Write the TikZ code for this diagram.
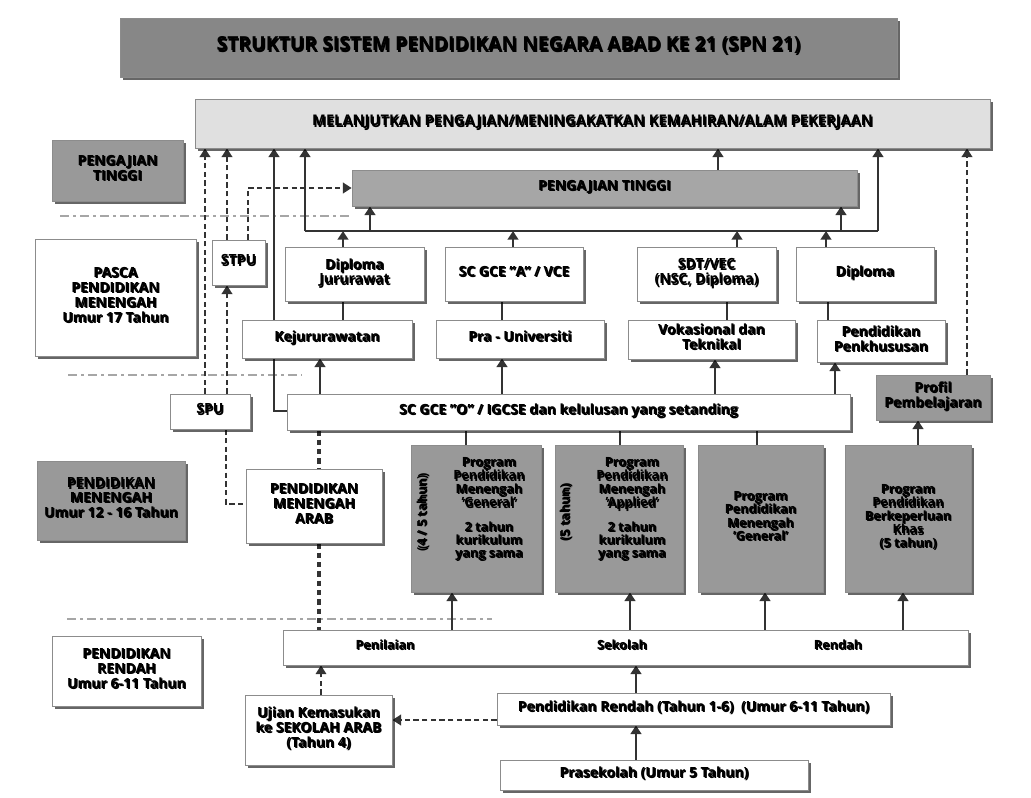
\documentclass[tikz,border=0pt]{standalone}
\usepackage{fontspec}
\setmainfont{Open Sans}
\usetikzlibrary{arrows.meta,shadows}

% text with a small offset shadow behind it
\newsavebox\shbox
\newcommand\shtext[3]{%
  \sbox\shbox{\begin{tabular}{@{}c@{}}#3\end{tabular}}%
  \makebox[0pt][l]{\kern0.9pt\raisebox{-0.9pt}{\color{#2}\usebox\shbox}}%
  {\color{#1}\usebox\shbox}}
\newcommand\tw[1]{\shtext{white}{black!80}{#1}}   % white on grey
\newcommand\tl[1]{\shtext{white}{black!50}{#1}}   % white on white
\newcommand\tb[1]{\shtext{black}{black!20}{#1}}   % black text
\renewcommand\arraystretch{0.95}

% box from its corners (x1,y1) (x2,y2)
\newcommand\bx[7]{%
  \node[#6, minimum width={(#4-#2)*0.75pt}, minimum height={(#5-#3)*0.75pt}]
    (#1) at ({(#2+#4)/2},{(#3+#5)/2}) {#7};}

\pgfdeclarelayer{paper}
\pgfdeclarelayer{links}
\pgfsetlayers{paper,links,main}

\tikzset{
  box/.style={draw=black!45, line width=0.6pt, inner sep=0pt, align=center,
    font=\bfseries\fontsize{10.5}{11.6}\selectfont,
    drop shadow={shadow xshift=2.2pt, shadow yshift=-2.2pt, fill=black, opacity=0.6}},
  wbox/.style={box, fill=white},
  gbox/.style={box, fill=black!40},
  txt/.style={inner sep=0pt, align=center, font=\bfseries\fontsize{9.5}{10.2}\selectfont},
  conn/.style={draw=black!80, line width=1.9pt},
  arr/.style={conn, -{Triangle[width=8pt,length=6.5pt]}},
  darr/.style={arr, line width=1.3pt, dash pattern=on 4pt off 2.5pt},
  dconn/.style={conn, line width=1.3pt, dash pattern=on 4pt off 2.5pt},
  tdash/.style={conn, line width=2.6pt, dash pattern=on 4pt off 3pt},
  sep/.style={draw=black!35, line width=1.4pt, dash pattern=on 7pt off 3pt on 2pt off 3pt},
}

\begin{document}
\begin{tikzpicture}[x=0.75pt, y=-0.75pt]
\begin{pgfonlayer}{paper}
\fill[white] (0,0) rectangle (1031,797);
\end{pgfonlayer}
\useasboundingbox (0,0) rectangle (1031,797);

% ---------- boxes ----------
\bx{title}{120}{18}{897}{77}{box, fill=black!47, font=\bfseries\fontsize{14.5}{16}\selectfont}
   {\tw{STRUKTUR SISTEM PENDIDIKAN NEGARA ABAD KE 21 (SPN 21)}}
\bx{melan}{195}{99}{990}{148}{box, fill=black!12, font=\bfseries\fontsize{11}{12}\selectfont}
   {\tl{MELANJUTKAN PENGAJIAN/MENINGAKATKAN KEMAHIRAN/ALAM PEKERJAAN}}
\bx{ptl}{52}{140}{183}{201}{gbox}{\tw{PENGAJIAN\\TINGGI}}
\bx{pt}{352}{170}{857}{206}{box, fill=black!35}{\tw{PENGAJIAN TINGGI}}

\bx{pasca}{35}{239}{196}{356}{wbox}{\tb{PASCA\\PENDIDIKAN\\MENENGAH\\Umur 17 Tahun}}
\bx{stpu}{212}{240}{265}{285}{wbox}{\tb{STPU}}
\bx{dipj}{285}{247}{424}{301}{wbox}{\tl{Diploma\\Jururawat}}
\bx{sca}{445}{247}{583}{301}{wbox}{\tl{SC GCE "A" / VCE}}
\bx{sdt}{637}{247}{776}{301}{wbox}{\tl{SDT/VEC\\(NSC, Diploma)}}
\bx{dip}{796}{247}{934}{301}{wbox}{\tl{Diploma}}

\bx{kej}{242}{320}{412}{358}{wbox}{\tb{Kejururawatan}}
\bx{pu}{436}{320}{604}{358}{wbox}{\tb{Pra - Universiti}}
\bx{vok}{628}{320}{795}{359}{wbox}{\tb{Vokasional dan\\Teknikal}}
\bx{pen}{817}{320}{945}{362}{wbox}{\tb{Pendidikan\\Penkhususan}}
\bx{profil}{876}{375}{990}{420}{gbox}{\tw{Profil\\Pembelajaran}}

\bx{spu}{170}{394}{250}{429}{wbox}{\tb{SPU}}
\bx{sco}{287}{394}{850}{430}{wbox}{\tl{SC GCE "O" / IGCSE dan kelulusan yang setanding}}

\bx{pml}{37}{461}{185}{540}{gbox}{\tw{PENDIDIKAN\\MENENGAH\\Umur 12 - 16 Tahun}}
\bx{pma}{246}{469}{382}{543}{wbox}{\tb{PENDIDIKAN\\MENENGAH\\ARAB}}

\bx{pg1}{411}{445}{541}{592}{gbox}{}
\bx{pg2}{555}{445}{683}{592}{gbox}{}
\bx{pg3}{698}{445}{823}{592}{gbox, font=\bfseries\fontsize{9.5}{10.2}\selectfont}
   {\tw{Program\\Pendidikan\\Menengah\\'General'}}
\bx{pg4}{845}{445}{971}{592}{gbox, font=\bfseries\fontsize{9.5}{10.2}\selectfont}
   {\tw{Program\\Pendidikan\\Berkeperluan\\Khas\\(5 tahun)}}
\node[txt] (pg1t) at (489,510) {\tw{Program\\Pendidikan\\Menengah\\'General'\\[8pt]2 tahun\\kurikulum\\yang sama}};
\node[txt, rotate=90] (pg1r) at (424,513) {\tw{(4 / 5 tahun)}};
\node[txt] (pg2t) at (632,510) {\tw{Program\\Pendidikan\\Menengah\\'Applied'\\[8pt]2 tahun\\kurikulum\\yang sama}};
\node[txt, rotate=90] (pg2r) at (567,513) {\tw{(5 tahun)}};

\bx{psr}{283}{630}{968}{665}{wbox}{}
\node[txt] (psr1) at (385,647) {\tl{Penilaian}};
\node[txt] (psr2) at (622,647) {\tl{Sekolah}};
\node[txt] (psr3) at (838,647) {\tl{Rendah}};
\bx{prl}{52}{636}{201}{706}{wbox}{\tb{PENDIDIKAN\\RENDAH\\Umur 6-11 Tahun}}
\bx{ujian}{245}{695}{392}{765}{wbox}{\tb{Ujian Kemasukan\\ke SEKOLAH ARAB\\(Tahun 4)}}
\bx{pr}{497}{693}{890}{725}{wbox}{\tb{Pendidikan Rendah (Tahun 1-6)\ \ (Umur 6-11 Tahun)}}
\bx{pre}{500}{760}{808}{790}{wbox}{\tb{Prasekolah (Umur 5 Tahun)}}

% ---------- connectors ----------
\begin{pgfonlayer}{links}
% level separators
\draw[sep] (60,216) -- (353,216);
\draw[sep] (68,375) -- (302,375);
\draw[sep] (67,619) -- (492,619);

% bus under PENGAJIAN TINGGI
\coordinate (busL) at (305,231);
\coordinate (busR) at (878,231);
\draw[conn] (busL) -- (busR);
\draw[arr] (busL) -- (busL |- melan.south);
\draw[arr] (busR) -- (busR |- melan.south);
\coordinate (b1) at (370,231);
\coordinate (b2) at (841,231);
\coordinate (b3) at (718,0);
\draw[arr] (b1) -- (b1 |- pt.south);
\draw[arr] (b2) -- (b2 |- pt.south);
\draw[arr] (pt.north -| b3) -- (melan.south -| b3);

% qualifications up to the bus
\coordinate (c1) at (343,0);
\coordinate (c2) at (513,0);
\coordinate (c3) at (737,0);
\coordinate (c4) at (826,0);
\draw[arr] (dipj.north -| c1) -- (busL -| c1);
\draw[arr] (sca.north -| c2) -- (busL -| c2);
\draw[arr] (sdt.north -| c3) -- (busL -| c3);
\draw[arr] (dip.north -| c4) -- (busL -| c4);

% streams to qualifications
\coordinate (e2) at (502,0);
\coordinate (e3) at (727,0);
\coordinate (e4) at (828,0);
\draw[conn] (kej.north -| c1) -- (dipj.south -| c1);
\draw[conn] (pu.north -| e2) -- (sca.south -| e2);
\draw[conn] (vok.north -| e3) -- (sdt.south -| e3);
\draw[conn] (pen.north -| e4) -- (dip.south -| e4);

% SC GCE 'O' up to the streams
\coordinate (f1) at (320,0);
\coordinate (f3) at (715,0);
\coordinate (f4) at (835,0);
\draw[arr] (sco.north -| f1) -- (kej.south -| f1);
\draw[arr] (sco.north -| e2) -- (pu.south -| e2);
\draw[arr] (sco.north -| f3) -- (vok.south -| f3);
\draw[arr] (sco.north -| f4) -- (pen.south -| f4);

% SC GCE 'O' straight to further study
\coordinate (k1) at (274,411);
\draw[arr] (sco.west |- k1) -- (k1) -- (k1 |- melan.south);

% SPU / STPU paths
\coordinate (d1) at (205,0);
\coordinate (d2) at (227,0);
\coordinate (d3) at (248,188);
\coordinate (d5) at (226,504);
\draw[darr] (spu.north -| d1) -- (melan.south -| d1);
\draw[darr] (stpu.north -| d2) -- (melan.south -| d2);
\draw[darr] (stpu.north -| d3) -- (d3) -- (pt.west);
\draw[darr] (spu.north -| d2) -- (stpu.south -| d2);
\draw[dconn] (spu.south -| d5) -- (d5) -- (pma.west |- d5);

% Arabic secondary stream
\coordinate (t1) at (319,0);
\draw[tdash] (sco.south -| t1) -- (pma.north -| t1);
\draw[tdash] (pma.south -| t1) -- (psr.north -| t1);

% programmes to SC GCE 'O' and the learning profile
\coordinate (g1) at (466,0);
\coordinate (g2) at (620,0);
\coordinate (g3) at (757,0);
\coordinate (g4) at (918,0);
\coordinate (d6) at (967,0);
\draw[conn] (pg1.north -| g1) -- (sco.south -| g1);
\draw[conn] (pg2.north -| g2) -- (sco.south -| g2);
\draw[conn] (pg3.north -| g3) -- (sco.south -| g3);
\draw[arr] (pg4.north -| g4) -- (profil.south -| g4);
\draw[darr] (profil.north -| d6) -- (melan.south -| d6);

% primary assessment up to the programmes
\coordinate (h1) at (452,0);
\coordinate (h2) at (630,0);
\coordinate (h3) at (765,0);
\coordinate (h4) at (903,0);
\draw[arr] (psr.north -| h1) -- (pg1.south -| h1);
\draw[arr] (psr.north -| h2) -- (pg2.south -| h2);
\draw[arr] (psr.north -| h3) -- (pg3.south -| h3);
\draw[arr] (psr.north -| h4) -- (pg4.south -| h4);

% primary and preschool
\coordinate (m1) at (636,0);
\coordinate (u1) at (440,720);
\coordinate (u2) at (321,0);
\draw[arr] (pr.north -| m1) -- (psr.south -| m1);
\draw[arr] (pre.north -| m1) -- (pr.south -| m1);
\draw[darr] (pr.west |- u1) -- (ujian.east |- u1);
\draw[darr, line width=0.9pt] (ujian.north -| u2) -- (psr.south -| u2);
\end{pgfonlayer}
\end{tikzpicture}
\end{document}
